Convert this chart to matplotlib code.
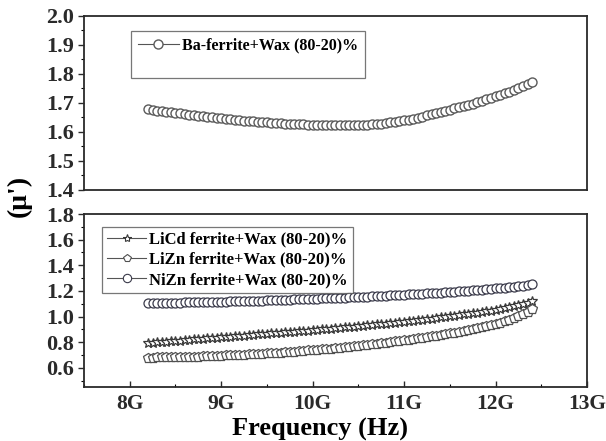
import matplotlib

matplotlib.use("Agg")

import matplotlib.pyplot as plt
import numpy as np
from matplotlib.lines import Line2D
from matplotlib.ticker import FuncFormatter, MultipleLocator


# measurement grid, 8.2 - 12.4 GHz
freq_hz = np.linspace(8.2e9, 12.4e9, 85)

ba_ferrite = [
    1.678, 1.676, 1.674, 1.672, 1.670, 1.668, 1.666, 1.664, 1.662, 1.660,
    1.658, 1.656, 1.654, 1.652, 1.650, 1.648, 1.647, 1.645, 1.644, 1.642,
    1.641, 1.639, 1.638, 1.637, 1.636, 1.634, 1.633, 1.632, 1.631, 1.630,
    1.629, 1.628, 1.627, 1.626, 1.626, 1.625, 1.625, 1.624, 1.624, 1.623,
    1.623, 1.623, 1.623, 1.623, 1.623, 1.623, 1.624, 1.624, 1.625, 1.626,
    1.628, 1.629, 1.631, 1.633, 1.635, 1.637, 1.640, 1.643, 1.646, 1.649,
    1.653, 1.657, 1.661, 1.665, 1.669, 1.673, 1.677, 1.681, 1.685, 1.689,
    1.694, 1.698, 1.703, 1.708, 1.713, 1.718, 1.723, 1.728, 1.734, 1.739,
    1.745, 1.751, 1.758, 1.765, 1.774,
]

licd_ferrite = [
    0.795, 0.797, 0.800, 0.802, 0.805, 0.808, 0.810, 0.813, 0.816, 0.819,
    0.821, 0.824, 0.827, 0.830, 0.832, 0.835, 0.838, 0.841, 0.843, 0.846,
    0.849, 0.852, 0.854, 0.857, 0.860, 0.863, 0.865, 0.868, 0.871, 0.874,
    0.876, 0.879, 0.882, 0.885, 0.888, 0.891, 0.894, 0.897, 0.900, 0.903,
    0.906, 0.909, 0.912, 0.915, 0.918, 0.921, 0.924, 0.928, 0.931, 0.934,
    0.938, 0.941, 0.945, 0.949, 0.952, 0.956, 0.960, 0.964, 0.968, 0.972,
    0.976, 0.980, 0.984, 0.989, 0.993, 0.997, 1.002, 1.006, 1.011, 1.016,
    1.021, 1.026, 1.031, 1.036, 1.042, 1.047, 1.053, 1.059, 1.066, 1.072,
    1.079, 1.087, 1.096, 1.105, 1.118,
]

lizn_ferrite = [
    0.680, 0.680, 0.681, 0.681, 0.682, 0.682, 0.683, 0.684, 0.685, 0.686,
    0.687, 0.688, 0.689, 0.690, 0.691, 0.693, 0.694, 0.696, 0.697, 0.699,
    0.700, 0.702, 0.704, 0.706, 0.708, 0.710, 0.712, 0.714, 0.716, 0.719,
    0.721, 0.724, 0.726, 0.729, 0.732, 0.735, 0.738, 0.741, 0.744, 0.747,
    0.750, 0.754, 0.757, 0.761, 0.764, 0.768, 0.772, 0.776, 0.780, 0.784,
    0.788, 0.792, 0.797, 0.801, 0.806, 0.810, 0.815, 0.820, 0.825, 0.830,
    0.835, 0.840, 0.845, 0.851, 0.857, 0.863, 0.869, 0.875, 0.882, 0.889,
    0.896, 0.903, 0.911, 0.919, 0.927, 0.935, 0.944, 0.953, 0.962, 0.972,
    0.988, 1.002, 1.017, 1.033, 1.058,
]

nizn_ferrite = [
    1.105, 1.105, 1.106, 1.106, 1.107, 1.107, 1.108, 1.109, 1.110, 1.110,
    1.111, 1.112, 1.113, 1.113, 1.114, 1.115, 1.116, 1.117, 1.118, 1.119,
    1.120, 1.121, 1.122, 1.123, 1.124, 1.125, 1.126, 1.127, 1.128, 1.129,
    1.131, 1.132, 1.133, 1.134, 1.136, 1.137, 1.138, 1.139, 1.141, 1.142,
    1.144, 1.145, 1.147, 1.148, 1.150, 1.151, 1.153, 1.154, 1.156, 1.158,
    1.160, 1.161, 1.163, 1.165, 1.167, 1.169, 1.171, 1.173, 1.175, 1.177,
    1.179, 1.181, 1.183, 1.185, 1.187, 1.189, 1.192, 1.194, 1.197, 1.199,
    1.202, 1.204, 1.207, 1.210, 1.213, 1.216, 1.219, 1.222, 1.226, 1.229,
    1.233, 1.237, 1.241, 1.246, 1.253,
]

top_label = "Ba-ferrite+Wax (80-20)%"
bottom_labels = [
    "LiCd ferrite+Wax (80-20)%",
    "LiZn ferrite+Wax (80-20)%",
    "NiZn ferrite+Wax (80-20)%",
]

x_ticks = [8e9, 9e9, 10e9, 11e9, 12e9, 13e9]

plt.rcParams["font.family"] = ["Liberation Serif", "DejaVu Serif"]
plt.rcParams["font.weight"] = "bold"

fig = plt.figure(figsize=(6.06, 4.41), dpi=100)
ax_top = fig.add_axes([0.1386, 0.5692, 0.8300, 0.3946])
ax_bot = fig.add_axes([0.1386, 0.1224, 0.8300, 0.3923])

spine_color = "#2a2a2a"
line_color = "#555555"

# top panel
ax_top.plot(
    freq_hz, ba_ferrite,
    color=line_color, linewidth=0.8,
    marker="o", markersize=6.5, markerfacecolor="white",
    markeredgecolor="#5a5a5a", markeredgewidth=1.0,
    label=top_label,
)

# bottom panel
styles = [
    ("*", 7.5, "#383838"),
    ("p", 7.0, "#505050"),
    ("o", 6.5, "#3a3a4a"),
]
series = [licd_ferrite, lizn_ferrite, nizn_ferrite]
bottom_handles = []
for values, label, (marker, size, edge) in zip(series, bottom_labels, styles):
    ax_bot.plot(
        freq_hz, values,
        color=line_color, linewidth=0.8,
        marker=marker, markersize=size, markerfacecolor="white",
        markeredgecolor=edge, markeredgewidth=0.9,
    )
    bottom_handles.append(
        Line2D(
            [], [], color=line_color, linewidth=0.8,
            marker=marker, markersize=6, markerfacecolor="white",
            markeredgecolor=edge, markeredgewidth=0.8,
            label=label,
        )
    )

for ax in (ax_top, ax_bot):
    ax.set_xlim(7.5e9, 13e9)
    for spine in ax.spines.values():
        spine.set_linewidth(1.3)
        spine.set_color(spine_color)
    ax.tick_params(
        axis="y", which="major", direction="out", length=4,
        width=1, labelsize=16, colors=spine_color, pad=3,
    )
    ax.tick_params(axis="y", which="minor", direction="out", length=2.5, width=0.8)

ax_top.set_ylim(1.4, 2.0)
ax_top.yaxis.set_major_locator(MultipleLocator(0.1))
ax_top.yaxis.set_minor_locator(MultipleLocator(0.05))
ax_top.yaxis.set_major_formatter(FuncFormatter(lambda v, _: f"{v:.1f}"))
ax_top.set_xticks([])

ax_bot.set_ylim(0.45, 1.8)
ax_bot.yaxis.set_major_locator(MultipleLocator(0.2))
ax_bot.yaxis.set_minor_locator(MultipleLocator(0.1))
ax_bot.yaxis.set_major_formatter(FuncFormatter(lambda v, _: f"{v:.1f}"))
ax_bot.set_xticks(x_ticks)
ax_bot.xaxis.set_minor_locator(MultipleLocator(0.5e9))
ax_bot.xaxis.set_major_formatter(FuncFormatter(lambda v, _: f"{v / 1e9:.0f}G"))
ax_bot.tick_params(
    axis="x", which="major", direction="in", length=4,
    width=1, labelsize=15.5, pad=5, colors=spine_color,
)
ax_bot.tick_params(axis="x", which="minor", direction="in", length=2.5, width=0.8)
for ax in (ax_top, ax_bot):
    for lab in ax.get_xticklabels() + ax.get_yticklabels():
        lab.set_fontweight("bold")

# legends
blank = Line2D([], [], color="none", label=" ")
leg_top = ax_top.legend(
    handles=[ax_top.lines[0], blank],
    loc="upper left", bbox_to_anchor=(0.078, 0.96),
    frameon=True, fancybox=False, edgecolor="#555555",
    prop={"size": 11.5, "weight": "bold"},
    handlelength=2.6, handletextpad=0.2, borderpad=0.4, labelspacing=0.15,
)
leg_top.get_frame().set_linewidth(0.9)

leg_bot = ax_bot.legend(
    handles=bottom_handles,
    loc="upper left", bbox_to_anchor=(0.02, 0.975),
    frameon=True, fancybox=False, edgecolor="#555555",
    prop={"size": 12, "weight": "bold"},
    handlelength=2.3, handletextpad=0.2, borderpad=0.3, labelspacing=0.25,
)
leg_bot.get_frame().set_linewidth(0.9)

fig.text(
    0.031, 0.555, "(\u03bc')", rotation=90,
    ha="center", va="center", fontsize=20, fontweight="bold",
)
fig.text(
    0.528, 0.026, "Frequency (Hz)",
    ha="center", va="center", fontsize=19, fontweight="bold",
)

fig.savefig("out.png", dpi=100)
plt.close(fig)
